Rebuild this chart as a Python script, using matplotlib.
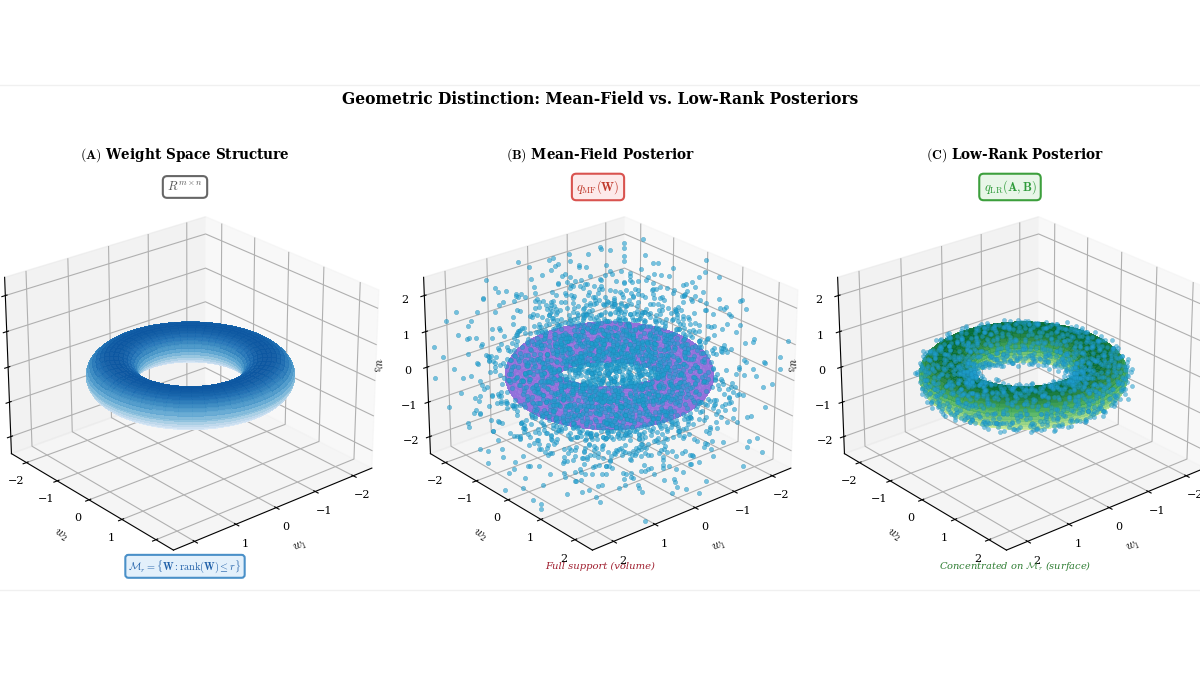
import numpy as np
import matplotlib.pyplot as plt
from matplotlib import cm
from matplotlib.lines import Line2D

plt.rcParams['font.family'] = ['DejaVu Serif']
plt.rcParams['mathtext.fontset'] = 'cm'

# geometry
R_MAJOR = 1.5
R_MINOR = 0.5
AX_LIM = 2.5
axis_ticks = [-2, -1, 0, 1, 2]

panel_titles = [r'$\mathbf{(A)}$ Weight Space Structure',
                r'$\mathbf{(B)}$ Mean-Field Posterior',
                r'$\mathbf{(C)}$ Low-Rank Posterior']
top_tags = [r'$R^{m\times n}$',
            r'$q_{\mathrm{MF}}(\mathbf{W})$',
            r'$q_{\mathrm{LR}}(\mathbf{A},\mathbf{B})$']
bottom_notes = [r'$\mathcal{M}_r = \{\mathbf{W} : \mathrm{rank}(\mathbf{W}) \leq r\}$',
                'Full support (volume)',
                r'Concentrated on $\mathcal{M}_r$ (surface)']

# sample clouds: count and spread
n_mf = 2500
mf_spread = 1.15
n_lr = 1200
lr_noise = 0.06


def halton(n, base):
    out = np.zeros(n)
    for i in range(n):
        f, k, x = 1.0, i + 1, 0.0
        while k > 0:
            f /= base
            x += f * (k % base)
            k //= base
        out[i] = x
    return out


def normal_pairs(n, b1, b2):
    u1 = np.clip(halton(n, b1), 1e-6, 1)
    u2 = halton(n, b2)
    rad = np.sqrt(-2 * np.log(u1))
    return rad * np.cos(2 * np.pi * u2), rad * np.sin(2 * np.pi * u2)


# torus surface
u = np.linspace(0, 2 * np.pi, 100)
v = np.linspace(0, 2 * np.pi, 70)
U, V = np.meshgrid(u, v)
TX = (R_MAJOR + R_MINOR * np.cos(V)) * np.cos(U)
TY = (R_MAJOR + R_MINOR * np.cos(V)) * np.sin(U)
TZ = R_MINOR * np.sin(V)
zn = (TZ + R_MINOR) / (2 * R_MINOR)

# mean-field cloud
g1, g2 = normal_pairs(n_mf, 2, 3)
g3, _ = normal_pairs(n_mf, 5, 7)
mf = np.clip(np.vstack([g1, g2, g3]) * mf_spread, -2.4, 2.4)

# low-rank cloud on the torus
pu = 2 * np.pi * halton(n_lr, 11)
pv = 2 * np.pi * halton(n_lr, 13)
e1, e2 = normal_pairs(n_lr, 17, 19)
e3, _ = normal_pairs(n_lr, 23, 29)
lr = np.vstack([(R_MAJOR + R_MINOR * np.cos(pv)) * np.cos(pu) + lr_noise * e1,
                (R_MAJOR + R_MINOR * np.cos(pv)) * np.sin(pu) + lr_noise * e2,
                R_MINOR * np.sin(pv) + lr_noise * e3])

fig = plt.figure(figsize=(12, 6.75), dpi=100)
fig.add_artist(Line2D([0, 1], [0.874, 0.874], color='#f0f0f0', lw=1))
fig.add_artist(Line2D([0, 1], [0.126, 0.126], color='#f0f0f0', lw=1))

centers = [185, 604, 1018]
size = 405
axes = []
for i, cx in enumerate(centers):
    ax = fig.add_axes([cx / 1200 - size / 2400, 0.438 - size / 1350,
                       size / 1200, size / 675], projection='3d')
    ax.computed_zorder = False
    ax.set_xlim(-AX_LIM, AX_LIM)
    ax.set_ylim(-AX_LIM, AX_LIM)
    ax.set_zlim(-AX_LIM, AX_LIM)
    ax.set_xticks(axis_ticks)
    ax.set_yticks(axis_ticks)
    ax.set_zticks(axis_ticks)
    ax.tick_params(labelsize=8, pad=0)
    ax.set_xlabel('$w_1$', fontsize=9, labelpad=0)
    ax.set_ylabel('$w_2$', fontsize=9, labelpad=0)
    ax.set_zlabel('$w_3$', fontsize=9, labelpad=0)
    ax.view_init(elev=25, azim=50)
    axes.append(ax)

axes[0].plot_surface(TX, TY, TZ, facecolors=cm.Blues(0.05 + 0.8 * zn),
                     linewidth=0, antialiased=False, alpha=0.95, shade=False)

axes[1].plot_surface(TX, TY, TZ, color='#9370db', linewidth=0,
                     antialiased=False, alpha=0.7, shade=False)
axes[1].scatter(mf[0], mf[1], mf[2], s=10, c='#1f9fd0', alpha=0.6,
                edgecolors='#1a85b0', linewidths=0.3, depthshade=False)

axes[2].plot_surface(TX, TY, TZ, facecolors=cm.YlGn(0.2 + 0.65 * zn),
                     linewidth=0, antialiased=False, alpha=0.9, shade=False)
axes[2].scatter(lr[0], lr[1], lr[2], s=9, c='#1f9fd0', alpha=0.55,
                edgecolors='#1a85b0', linewidths=0.3, depthshade=False)

fig.text(0.5, 0.852, 'Geometric Distinction: Mean-Field vs. Low-Rank Posteriors',
         ha='center', va='center', fontsize=11.2, fontweight='bold')

title_x = [185, 600, 1015]
for i in range(3):
    fig.text(title_x[i] / 1200, 0.770, panel_titles[i], ha='center',
             va='center', fontsize=9.8, fontweight='bold')

tag_style = [('#555555', 'white', '#666666'),
             ('#c0392b', '#fdeaea', '#d9534f'),
             ('#2e9b3a', '#e8f6e8', '#3c9f3c')]
tag_x = [185, 598, 1010]
for i in range(3):
    tc, fc, ec = tag_style[i]
    fig.text(tag_x[i] / 1200, 0.723, top_tags[i], ha='center', va='center',
             fontsize=9, color=tc,
             bbox=dict(boxstyle='round,pad=0.35', fc=fc, ec=ec, lw=1.5))

fig.text(185 / 1200, 0.161, bottom_notes[0], ha='center', va='center',
         fontsize=7.4, color='#1f5fa8',
         bbox=dict(boxstyle='round,pad=0.3', fc='#e3f0fb', ec='#4a90c8', lw=1.5))
fig.text(600 / 1200, 0.161, bottom_notes[1], ha='center', va='center',
         fontsize=7.2, color='#a02030', style='italic')
fig.text(1015 / 1200, 0.161, bottom_notes[2], ha='center', va='center',
         fontsize=7.1, color='#2e7d32', style='italic')

fig.savefig('out.png', dpi=100)
